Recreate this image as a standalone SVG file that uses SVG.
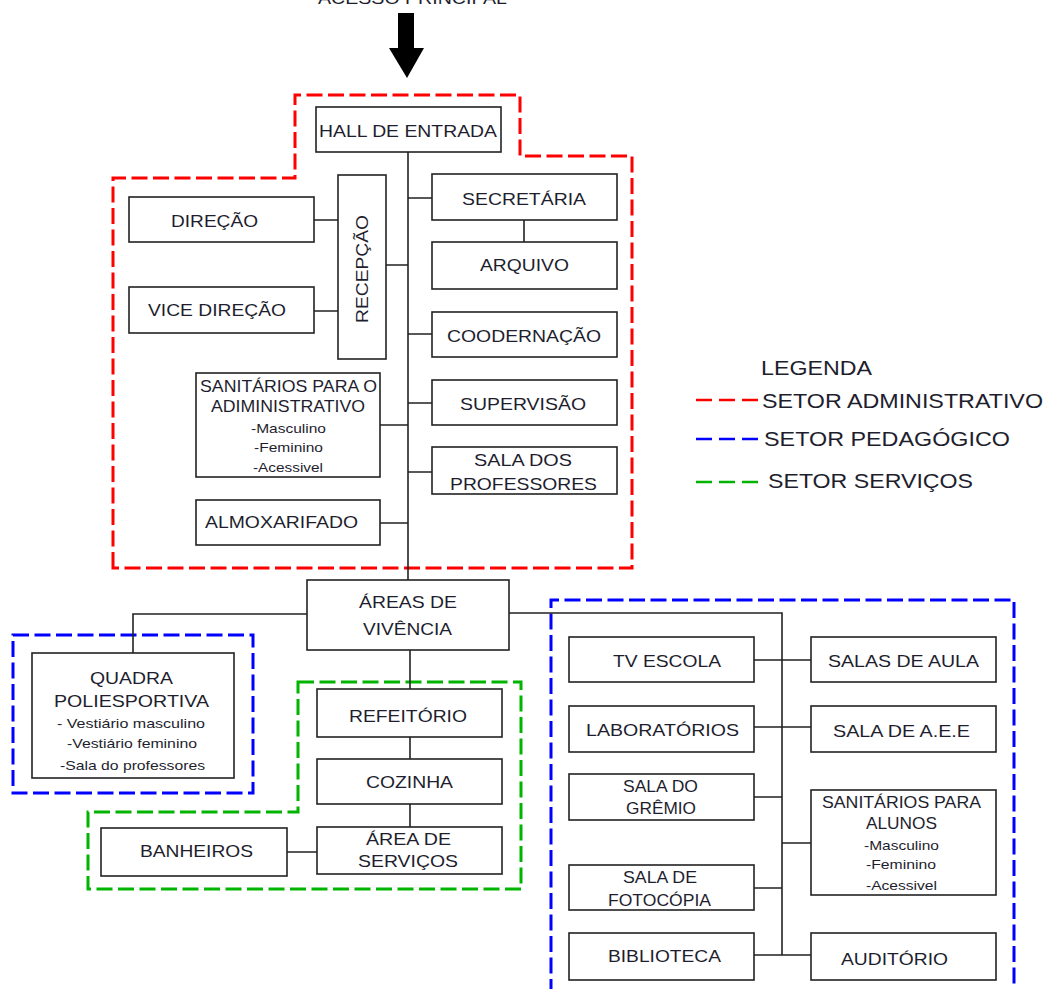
<svg xmlns="http://www.w3.org/2000/svg" width="1050" height="989" viewBox="0 0 1050 989">
<style>
.bx{fill:#fff;stroke:#222;stroke-width:1.6}
.cn{fill:none;stroke:#222;stroke-width:1.6}
.t{font-family:"Liberation Sans",Arial,sans-serif;font-size:16.5px;fill:#1e1e2e}
.s{font-family:"Liberation Sans",Arial,sans-serif;font-size:13.5px;fill:#1e1e2e}
.lg{font-family:"Liberation Sans",Arial,sans-serif;font-size:21px;fill:#1e1e2e}
.red{fill:none;stroke:#ff0000;stroke-width:3;stroke-dasharray:16 5.5}
.blue{fill:none;stroke:#0000ff;stroke-width:3;stroke-dasharray:16 5.5}
.green{fill:none;stroke:#00b400;stroke-width:3;stroke-dasharray:16 5.5}
.lr{stroke:#ff0000;stroke-width:2.5;stroke-dasharray:16 7}
.lb{stroke:#0000ff;stroke-width:2.5;stroke-dasharray:16 7}
.lgn{stroke:#00b400;stroke-width:2.5;stroke-dasharray:16 7}
</style>
<rect width="1050" height="989" fill="#fff"/>
<g id="sectors">
<path class="red" d="M113,568 L113,178 L295,178 L295,95 L520,95 L520,156 L632,156 L632,568 Z"/>
<rect class="blue" x="13" y="635" width="240" height="158"/>
<path class="green" d="M298,682 L521,682 L521,889 L88,889 L88,812 L298,812 Z"/>
<path class="blue" d="M551,995 L551,600 L1014,600 L1014,995"/>
</g>
<g id="acesso">
<text class="t" x="318" y="4" textLength="189" lengthAdjust="spacingAndGlyphs">ACESSO PRINCIPAL</text>
<polygon points="398,13 414,13 414,48 424,48 407,78 389,48 398,48" fill="#000"/>
</g>
<g id="connectors">
<path class="cn" d="M408,152 L408,580"/>
<path class="cn" d="M408,198 L432,198 M524,220 L524,242 M408,334 L432,334 M408,403 L432,403 M408,472 L432,472"/>
<path class="cn" d="M386,265 L408,265 M314,220 L338,220 M314,311 L338,311 M380,425 L408,425 M380,523 L408,523"/>
<path class="cn" d="M307,614 L133,614 L133,653"/>
<path class="cn" d="M410,650 L410,689 M410,737 L410,759 M410,804 L410,827 M287,852 L317,852"/>
<path class="cn" d="M509,613 L782,613 L782,955"/>
<path class="cn" d="M754,660 L811,660 M754,727 L811,727 M754,797 L782,797 M782,843 L811,843 M754,888 L782,888 M754,955 L811,955"/>
</g>
<g id="hall"><rect class="bx" x="316" y="107" width="185" height="45"/><text class="t" x="319" y="137" textLength="178" lengthAdjust="spacingAndGlyphs">HALL DE ENTRADA</text></g>
<g id="direcao"><rect class="bx" x="129" y="197" width="185" height="45"/><text class="t" x="171" y="227" textLength="87" lengthAdjust="spacingAndGlyphs">DIREÇÃO</text></g>
<g id="vice"><rect class="bx" x="129" y="287" width="185" height="46"/><text class="t" x="148" y="316" textLength="138" lengthAdjust="spacingAndGlyphs">VICE DIREÇÃO</text></g>
<g id="recepcao"><rect class="bx" x="338" y="175" width="48" height="184"/><text class="t" transform="translate(368,269) rotate(-90)" x="0" y="0" text-anchor="middle" textLength="108" lengthAdjust="spacingAndGlyphs">RECEPÇÃO</text></g>
<g id="sanit-adm"><rect class="bx" x="196" y="373" width="184" height="104"/>
<text class="t" x="200" y="392" textLength="177" lengthAdjust="spacingAndGlyphs">SANITÁRIOS PARA O</text>
<text class="t" x="211" y="412" textLength="154" lengthAdjust="spacingAndGlyphs">ADIMINISTRATIVO</text>
<text class="s" x="251" y="433" textLength="75" lengthAdjust="spacingAndGlyphs">-Masculino</text>
<text class="s" x="254" y="452" textLength="69" lengthAdjust="spacingAndGlyphs">-Feminino</text>
<text class="s" x="253" y="472" textLength="70" lengthAdjust="spacingAndGlyphs">-Acessivel</text></g>
<g id="almox"><rect class="bx" x="196" y="500" width="184" height="45"/><text class="t" x="205" y="528" textLength="153" lengthAdjust="spacingAndGlyphs">ALMOXARIFADO</text></g>
<g id="secretaria"><rect class="bx" x="432" y="174" width="185" height="46"/><text class="t" x="462" y="205" textLength="124" lengthAdjust="spacingAndGlyphs">SECRETÁRIA</text></g>
<g id="arquivo"><rect class="bx" x="432" y="242" width="185" height="47"/><text class="t" x="480" y="271" textLength="89" lengthAdjust="spacingAndGlyphs">ARQUIVO</text></g>
<g id="coord"><rect class="bx" x="432" y="312" width="185" height="45"/><text class="t" x="447" y="342" textLength="154" lengthAdjust="spacingAndGlyphs">COODERNAÇÃO</text></g>
<g id="superv"><rect class="bx" x="432" y="380" width="185" height="45"/><text class="t" x="460" y="410" textLength="126" lengthAdjust="spacingAndGlyphs">SUPERVISÃO</text></g>
<g id="profs"><rect class="bx" x="432" y="447" width="185" height="47"/>
<text class="t" x="474" y="466" textLength="98" lengthAdjust="spacingAndGlyphs">SALA DOS</text>
<text class="t" x="450" y="490" textLength="147" lengthAdjust="spacingAndGlyphs">PROFESSORES</text></g>
<g id="areas"><rect class="bx" x="307" y="580" width="202" height="70"/>
<text class="t" x="359" y="608" textLength="98" lengthAdjust="spacingAndGlyphs">ÁREAS DE</text>
<text class="t" x="363" y="635" textLength="89" lengthAdjust="spacingAndGlyphs">VIVÊNCIA</text></g>
<g id="quadra"><rect class="bx" x="32" y="653" width="202" height="125"/>
<text class="t" x="90" y="684" textLength="83" lengthAdjust="spacingAndGlyphs">QUADRA</text>
<text class="t" x="54" y="707" textLength="155" lengthAdjust="spacingAndGlyphs">POLIESPORTIVA</text>
<text class="s" x="57" y="728" textLength="148" lengthAdjust="spacingAndGlyphs">- Vestiário masculino</text>
<text class="s" x="67" y="748" textLength="130" lengthAdjust="spacingAndGlyphs">-Vestiário feminino</text>
<text class="s" x="60" y="770" textLength="145" lengthAdjust="spacingAndGlyphs">-Sala do professores</text></g>
<g id="refeitorio"><rect class="bx" x="317" y="689" width="185" height="48"/><text class="t" x="349" y="722" textLength="118" lengthAdjust="spacingAndGlyphs">REFEITÓRIO</text></g>
<g id="cozinha"><rect class="bx" x="317" y="759" width="185" height="45"/><text class="t" x="366" y="788" textLength="87" lengthAdjust="spacingAndGlyphs">COZINHA</text></g>
<g id="servicos"><rect class="bx" x="317" y="827" width="185" height="47"/>
<text class="t" x="366" y="845" textLength="85" lengthAdjust="spacingAndGlyphs">ÁREA DE</text>
<text class="t" x="358" y="867" textLength="100" lengthAdjust="spacingAndGlyphs">SERVIÇOS</text></g>
<g id="banheiros"><rect class="bx" x="101" y="828" width="186" height="48"/><text class="t" x="140" y="857" textLength="113" lengthAdjust="spacingAndGlyphs">BANHEIROS</text></g>
<g id="tv"><rect class="bx" x="569" y="637" width="185" height="45"/><text class="t" x="613" y="667" textLength="108" lengthAdjust="spacingAndGlyphs">TV ESCOLA</text></g>
<g id="salas"><rect class="bx" x="811" y="637" width="185" height="45"/><text class="t" x="828" y="667" textLength="151" lengthAdjust="spacingAndGlyphs">SALAS DE AULA</text></g>
<g id="lab"><rect class="bx" x="569" y="706" width="185" height="46"/><text class="t" x="586" y="736" textLength="153" lengthAdjust="spacingAndGlyphs">LABORATÓRIOS</text></g>
<g id="aee"><rect class="bx" x="811" y="706" width="185" height="46"/><text class="t" x="833" y="737" textLength="137" lengthAdjust="spacingAndGlyphs">SALA DE A.E.E</text></g>
<g id="gremio"><rect class="bx" x="569" y="774" width="185" height="46"/>
<text class="t" x="623" y="792" textLength="75" lengthAdjust="spacingAndGlyphs">SALA DO</text>
<text class="t" x="626" y="814" textLength="70" lengthAdjust="spacingAndGlyphs">GRÊMIO</text></g>
<g id="sanit-alunos"><rect class="bx" x="811" y="790" width="185" height="105"/>
<text class="t" x="822" y="808" textLength="159" lengthAdjust="spacingAndGlyphs">SANITÁRIOS PARA</text>
<text class="t" x="866" y="829" textLength="71" lengthAdjust="spacingAndGlyphs">ALUNOS</text>
<text class="s" x="864" y="850" textLength="75" lengthAdjust="spacingAndGlyphs">-Masculino</text>
<text class="s" x="866" y="869" textLength="70" lengthAdjust="spacingAndGlyphs">-Feminino</text>
<text class="s" x="866" y="890" textLength="71" lengthAdjust="spacingAndGlyphs">-Acessivel</text></g>
<g id="fotocopia"><rect class="bx" x="569" y="865" width="185" height="45"/>
<text class="t" x="623" y="883" textLength="74" lengthAdjust="spacingAndGlyphs">SALA DE</text>
<text class="t" x="608" y="906" textLength="103" lengthAdjust="spacingAndGlyphs">FOTOCÓPIA</text></g>
<g id="biblioteca"><rect class="bx" x="569" y="933" width="185" height="47"/><text class="t" x="608" y="962" textLength="113" lengthAdjust="spacingAndGlyphs">BIBLIOTECA</text></g>
<g id="auditorio"><rect class="bx" x="811" y="933" width="185" height="47"/><text class="t" x="841" y="965" textLength="107" lengthAdjust="spacingAndGlyphs">AUDITÓRIO</text></g>
<g id="legenda">
<text class="lg" x="761" y="375" textLength="111" lengthAdjust="spacingAndGlyphs">LEGENDA</text>
<line class="lr" x1="696" y1="400" x2="759" y2="400"/>
<text class="lg" x="762" y="408" textLength="281" lengthAdjust="spacingAndGlyphs">SETOR ADMINISTRATIVO</text>
<line class="lb" x1="696" y1="439" x2="759" y2="439"/>
<text class="lg" x="764" y="446" textLength="246" lengthAdjust="spacingAndGlyphs">SETOR PEDAGÓGICO</text>
<line class="lgn" x1="696" y1="482" x2="759" y2="482"/>
<text class="lg" x="768" y="488" textLength="205" lengthAdjust="spacingAndGlyphs">SETOR SERVIÇOS</text>
</g>
</svg>
